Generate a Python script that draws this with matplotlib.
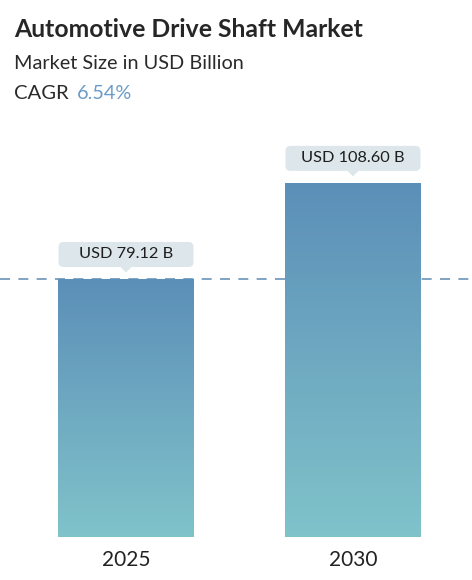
import matplotlib
matplotlib.use("Agg")
import matplotlib.pyplot as plt
import numpy as np
from matplotlib.patches import FancyBboxPatch, Polygon
from matplotlib.transforms import Affine2D, ScaledTranslation
from matplotlib.colors import LinearSegmentedColormap

# ---- data ----
years = ["2025", "2030"]
values = [79.12, 108.60]
labels = ["USD 79.12 B", "USD 108.60 B"]
title = "Automotive Drive Shaft Market"
subtitle = "Market Size in USD Billion"
cagr_label = "CAGR"
cagr_value = "6.54%"

plt.rcParams['font.family'] = ['Lato', 'DejaVu Sans']

W, H = 472, 580
fig = plt.figure(figsize=(W / 100, H / 100), dpi=100)

# axes: bottom of bars at y=537 px, top at 130 px; full width
ax = fig.add_axes([0, (H - 537) / H, 1, (537 - 130) / H])
px_per_unit = 3.261
spacing = 227.0
xpos = np.arange(len(years))
bar_w = 136 / spacing

for s in ax.spines.values():
    s.set_visible(False)
ax.set_yticks([])
ax.set_xticks(xpos)
ax.set_xticklabels(years, fontsize=15, color='#222222')
ax.tick_params(axis='x', length=0, pad=9)

# dashed reference line at first value
ax.axhline(values[0], color='#6b93b9', lw=1.2, dashes=(6, 5), zorder=1)

cmap = LinearSegmentedColormap.from_list('g', ['#80c3ca', '#5c8fb8'])
grad = np.linspace(0, 1, 256).reshape(-1, 1)

bars = ax.bar(xpos, values, width=bar_w, color='none', edgecolor='none', zorder=2)
for b in bars:
    x0, w, h = b.get_x(), b.get_width(), b.get_height()
    im = ax.imshow(grad, extent=(x0, x0 + w, 0, h), origin='lower', cmap=cmap,
                   aspect='auto', zorder=2, interpolation='bicubic')
    im.set_clip_path(b)

ax.set_xlim(-126 / spacing, 1 + (472 - 353) / spacing)
ax.set_ylim(0, (537 - 130) / px_per_unit)

# value callouts (pixel-sized, anchored to bar tops)
box_fc = '#dde7eb'
for x, v, lab in zip(xpos, values, labels):
    tr = Affine2D() + ScaledTranslation(x, v, ax.transData)
    box = FancyBboxPatch((-67.5, 12), 135, 25, boxstyle='round,pad=0,rounding_size=5',
                         fc=box_fc, ec='none', transform=tr, zorder=4, clip_on=False)
    ax.add_patch(box)
    tri = Polygon([(-6, 12.5), (6, 12.5), (0, 6.5)], closed=True, fc=box_fc, ec='none',
                  transform=tr, zorder=4, clip_on=False)
    ax.add_patch(tri)
    ax.text(0, 24.5, lab, transform=tr, ha='center', va='center', fontsize=11.8,
            color='#1e1e1e', zorder=5)

# titles
fig.text(14 / W, 1 - 37 / H, title, fontsize=17.8, fontweight='bold', color='#262626',
         va='baseline', ha='left')
fig.text(14 / W, 1 - 69 / H, subtitle, fontsize=14.3, color='#2a2a2a', va='baseline', ha='left')
t = fig.text(14 / W, 1 - 99 / H, cagr_label, fontsize=14.6, color='#2a2a2a', va='baseline', ha='left')
ax.annotate(cagr_value, xy=(1, 0), xycoords=t, xytext=(8, 0), textcoords='offset pixels',
            fontsize=14.3, color='#6a9cc8', va='bottom', ha='left', annotation_clip=False)

fig.savefig('out.png', dpi=100)
